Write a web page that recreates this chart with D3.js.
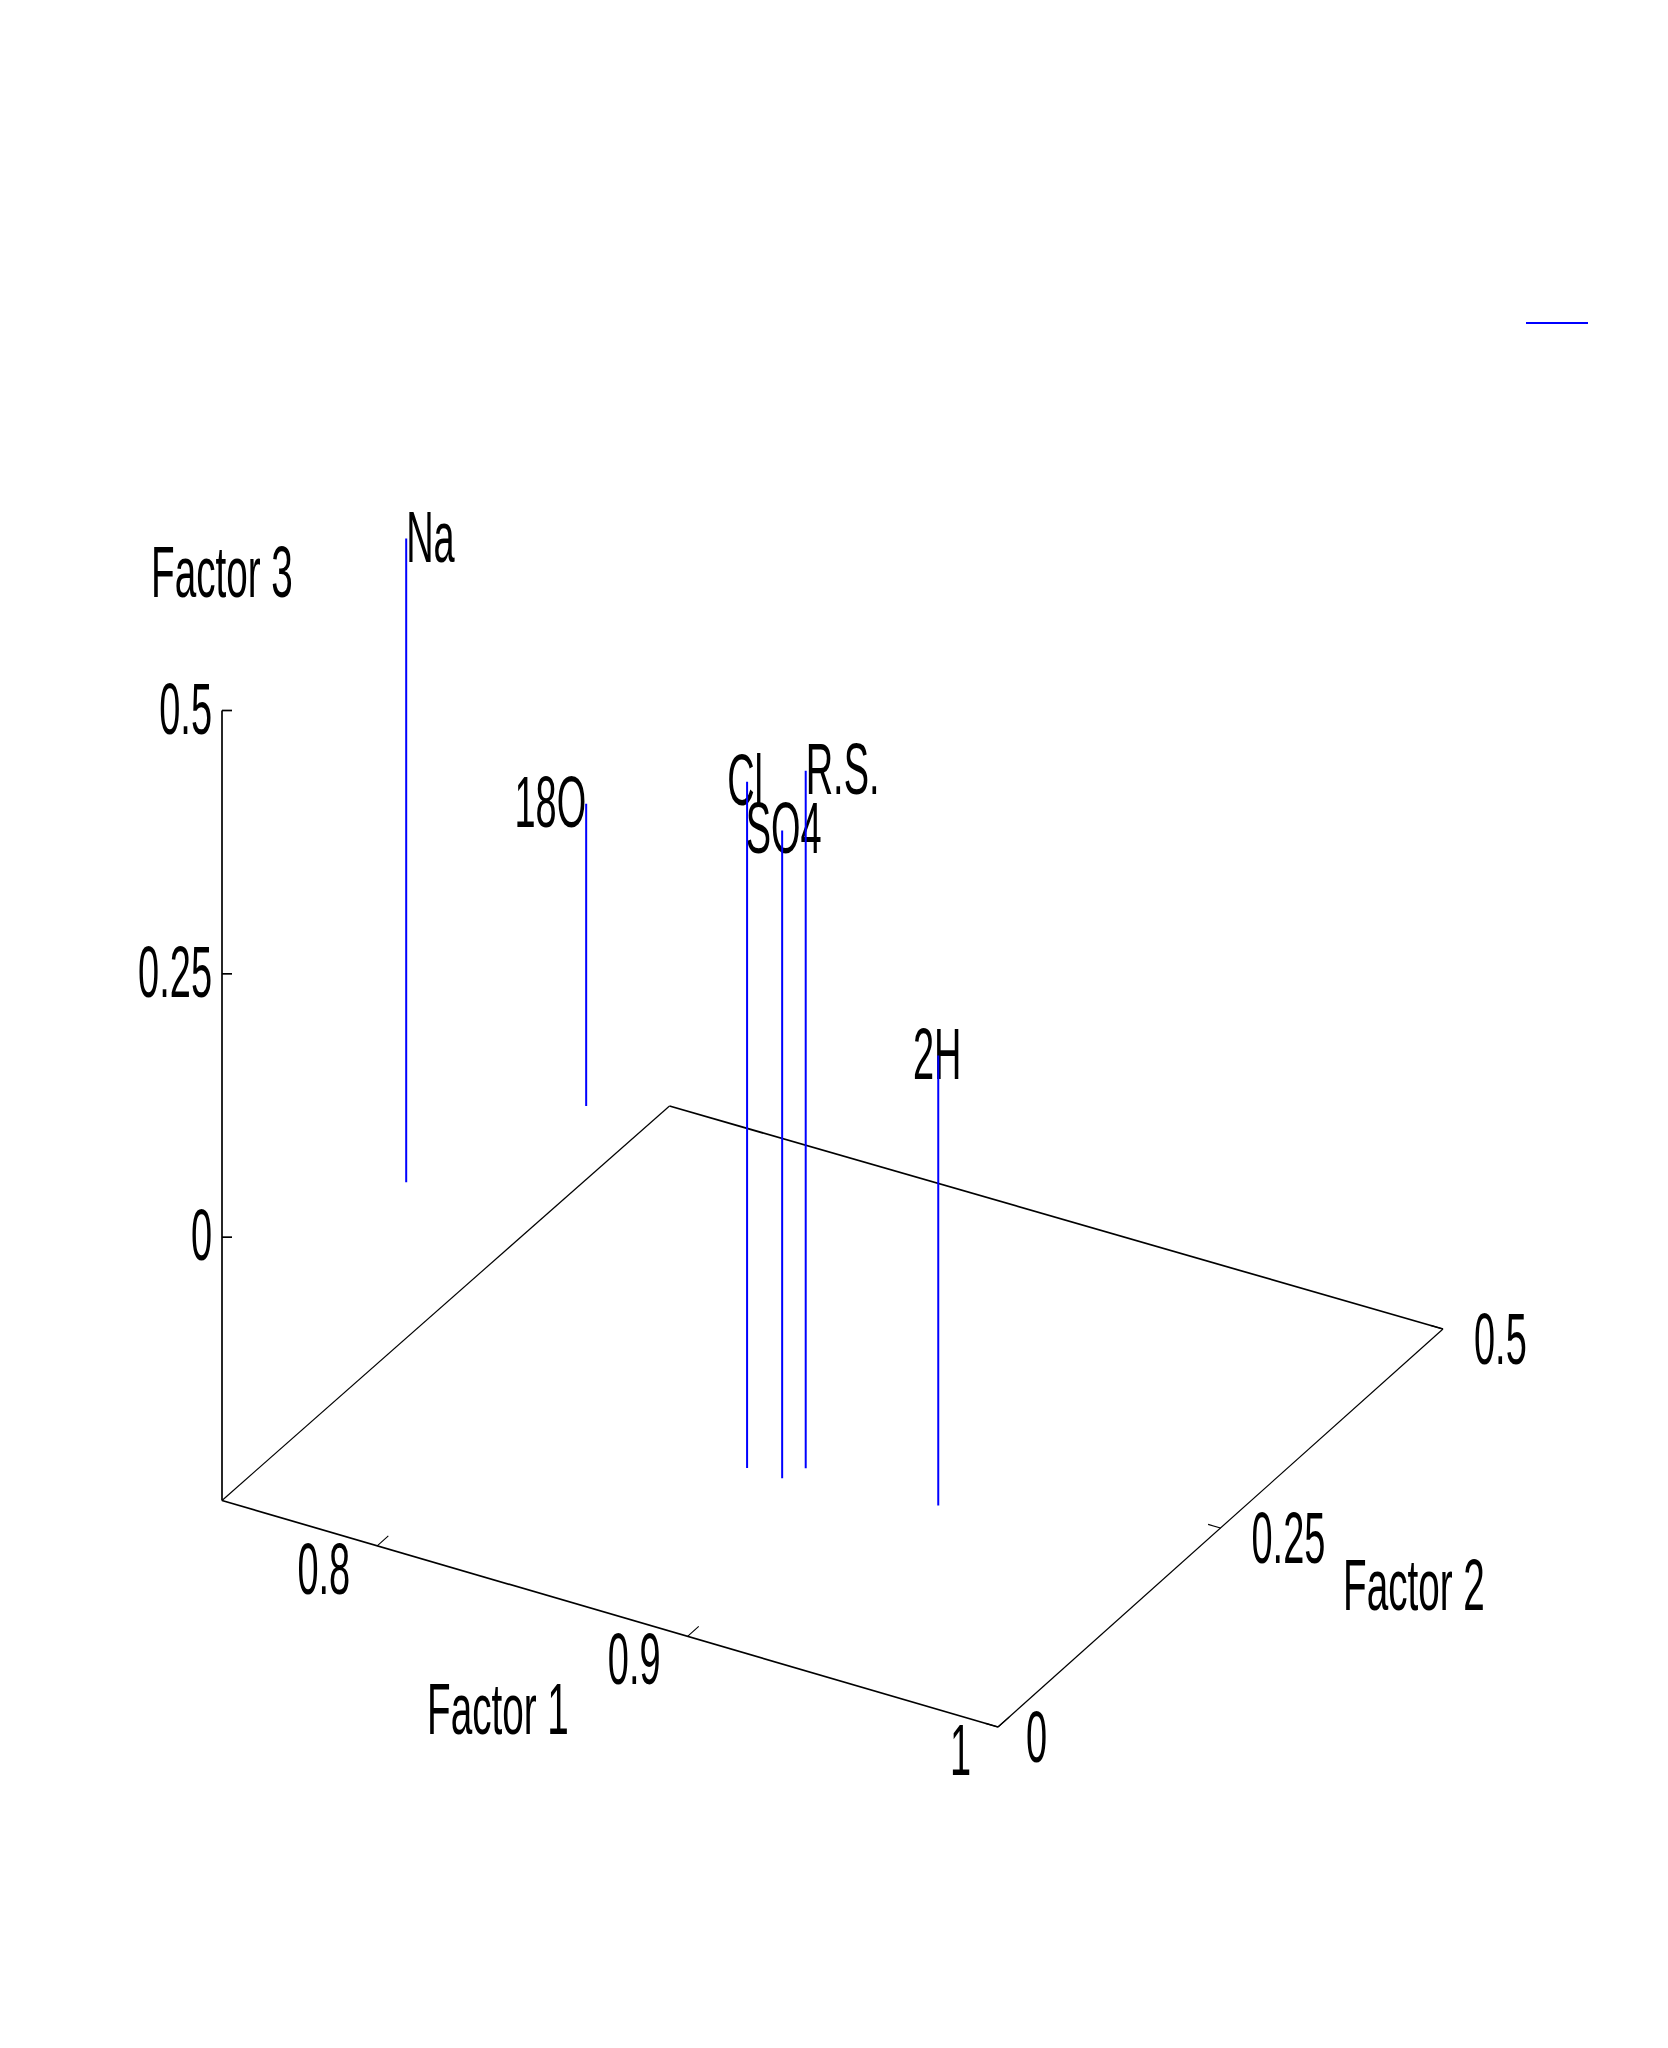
<!DOCTYPE html>
<html>
<head>
<meta charset="utf-8">
<script src="https://cdn.jsdelivr.net/npm/d3@7"></script>
<style>
html,body{margin:0;padding:0;background:#fff}
svg{display:block}
text{font-family:"Liberation Sans",Arial,sans-serif;fill:#000}
</style>
</head>
<body>
<div id="chart"></div>
<script>
// ---- data ----
const labels   = ["Na", "18O", "Cl", "SO4", "R.S.", "2H"];
const factor1  = [0.7083, 0.7313, 0.8687, 0.880, 0.883, 0.9253];
const factor2  = [0.3524, 0.4744, 0.176, 0.176, 0.192, 0.1934];
const factor3  = [0.361, 0.037, 0.4015, 0.365, 0.412, 0.177];
const labelAnchors = ["start", "end", "middle", "middle", "start", "middle"];
const factor1Ticks = [0.8, 0.9, 1];
const factor2Ticks = [0, 0.25, 0.5];
const factor3Ticks = [0, 0.25, 0.5];
const factor1Domain = [0.75, 1];
const factor2Domain = [0, 0.5];
const factor3Domain = [-0.25, 0.5];

// ---- oblique projection built from linear scales ----
const W = 1668, H = 2048;
const originX = 222, originY = 1500.5;
const f1x = d3.scaleLinear().domain(factor1Domain).range([0, 776]);
const f1y = d3.scaleLinear().domain(factor1Domain).range([0, 226.5]);
const f2x = d3.scaleLinear().domain(factor2Domain).range([0, 445]);
const f2y = d3.scaleLinear().domain(factor2Domain).range([0, -398]);
const f3y = d3.scaleLinear().domain(factor3Domain).range([0, -790]);
const px = (a, b) => originX + f1x(a) + f2x(b);
const py = (a, b, c) => originY + f1y(a) + f2y(b) + f3y(c);
const [a0, a1] = factor1Domain, [b0, b1] = factor2Domain, [c0, c1] = factor3Domain;

const svg = d3.select("#chart").append("svg").attr("width", W).attr("height", H);
svg.append("rect").attr("width", W).attr("height", H).attr("fill", "#fff");

const FONT = 73, SX = 0.52, SX_TITLE = 0.53;
function label(x, y, str, anchor, sx) {
  return svg.append("text")
    .attr("transform", `translate(${x},${y}) scale(${sx || SX},1)`)
    .attr("font-size", FONT)
    .attr("text-anchor", anchor || "start")
    .text(str);
}
function seg(x1, y1, x2, y2, w, color) {
  svg.append("line").attr("x1", x1).attr("y1", y1).attr("x2", x2).attr("y2", y2)
    .attr("stroke", color || "#000").attr("stroke-width", w);
}

// floor box edges (the far corner sits slightly inside the parallelogram, as the view has perspective)
const farX = px(a0, b1) + 2.5, farY = py(a0, b1, c0) + 3.5;
seg(px(a0, b0), py(a0, b0, c0), px(a1, b0), py(a1, b0, c0), 1.7);
seg(px(a1, b0), py(a1, b0, c0), px(a1, b1), py(a1, b1, c0), 1.2);
seg(px(a1, b1), py(a1, b1, c0), farX, farY, 1.7);
seg(farX, farY, px(a0, b0), py(a0, b0, c0), 1.2);
// vertical axis
seg(px(a0, b0), py(a0, b0, c0), px(a0, b0), py(a0, b0, c1), 1.7);

// Factor 3 ticks + labels
factor3Ticks.forEach(t => {
  const x = px(a0, b0), y = py(a0, b0, t);
  seg(x, y, x + 10, y, 1.7);
  label(x - 10, y + 23, String(t), "end");
});
// Factor 1 ticks + labels
factor1Ticks.forEach(t => {
  const x = px(t, b0), y = py(t, b0, c0);
  seg(x, y, px(t, 0.0125), py(t, 0.0125, c0), 1.1);
  label(x - 27, y + 48, String(t), "end");
});
// Factor 2 ticks + labels
factor2Ticks.forEach(t => {
  const x = px(a1, t), y = py(a1, t, c0);
  seg(x, y, px(a1 - 0.004, t), py(a1 - 0.004, t, c0), 1.1);
  label(x + (t === 0 ? 28 : 31), y + 35, String(t), "start");
});

// axis titles
label(427, 1734, "Factor 1", "start", SX_TITLE);
label(1343, 1610, "Factor 2", "start", SX_TITLE);
label(151, 597, "Factor 3", "start", SX_TITLE);

// point labels (below the marks in paint order)
labels.forEach((s, i) => {
  const x = px(factor1[i], factor2[i]), y = py(factor1[i], factor2[i], factor3[i]);
  const off = s === "Cl" ? -2 : s === "SO4" ? 1.5 : s === "2H" ? -1 : 0;
  label(x + off, y + 23, s, labelAnchors[i]);
});

// impulses
svg.append("g").selectAll("line").data(labels).join("line")
  .attr("x1", (d, i) => px(factor1[i], factor2[i]))
  .attr("x2", (d, i) => px(factor1[i], factor2[i]))
  .attr("y1", (d, i) => py(factor1[i], factor2[i], c0))
  .attr("y2", (d, i) => py(factor1[i], factor2[i], factor3[i]))
  .attr("stroke", "#0000ff").attr("stroke-width", 2);

// legend sample line (no legend text in the reference)
seg(1526, 323, 1588, 323, 2, "#0000ff");
</script>
</body>
</html>
